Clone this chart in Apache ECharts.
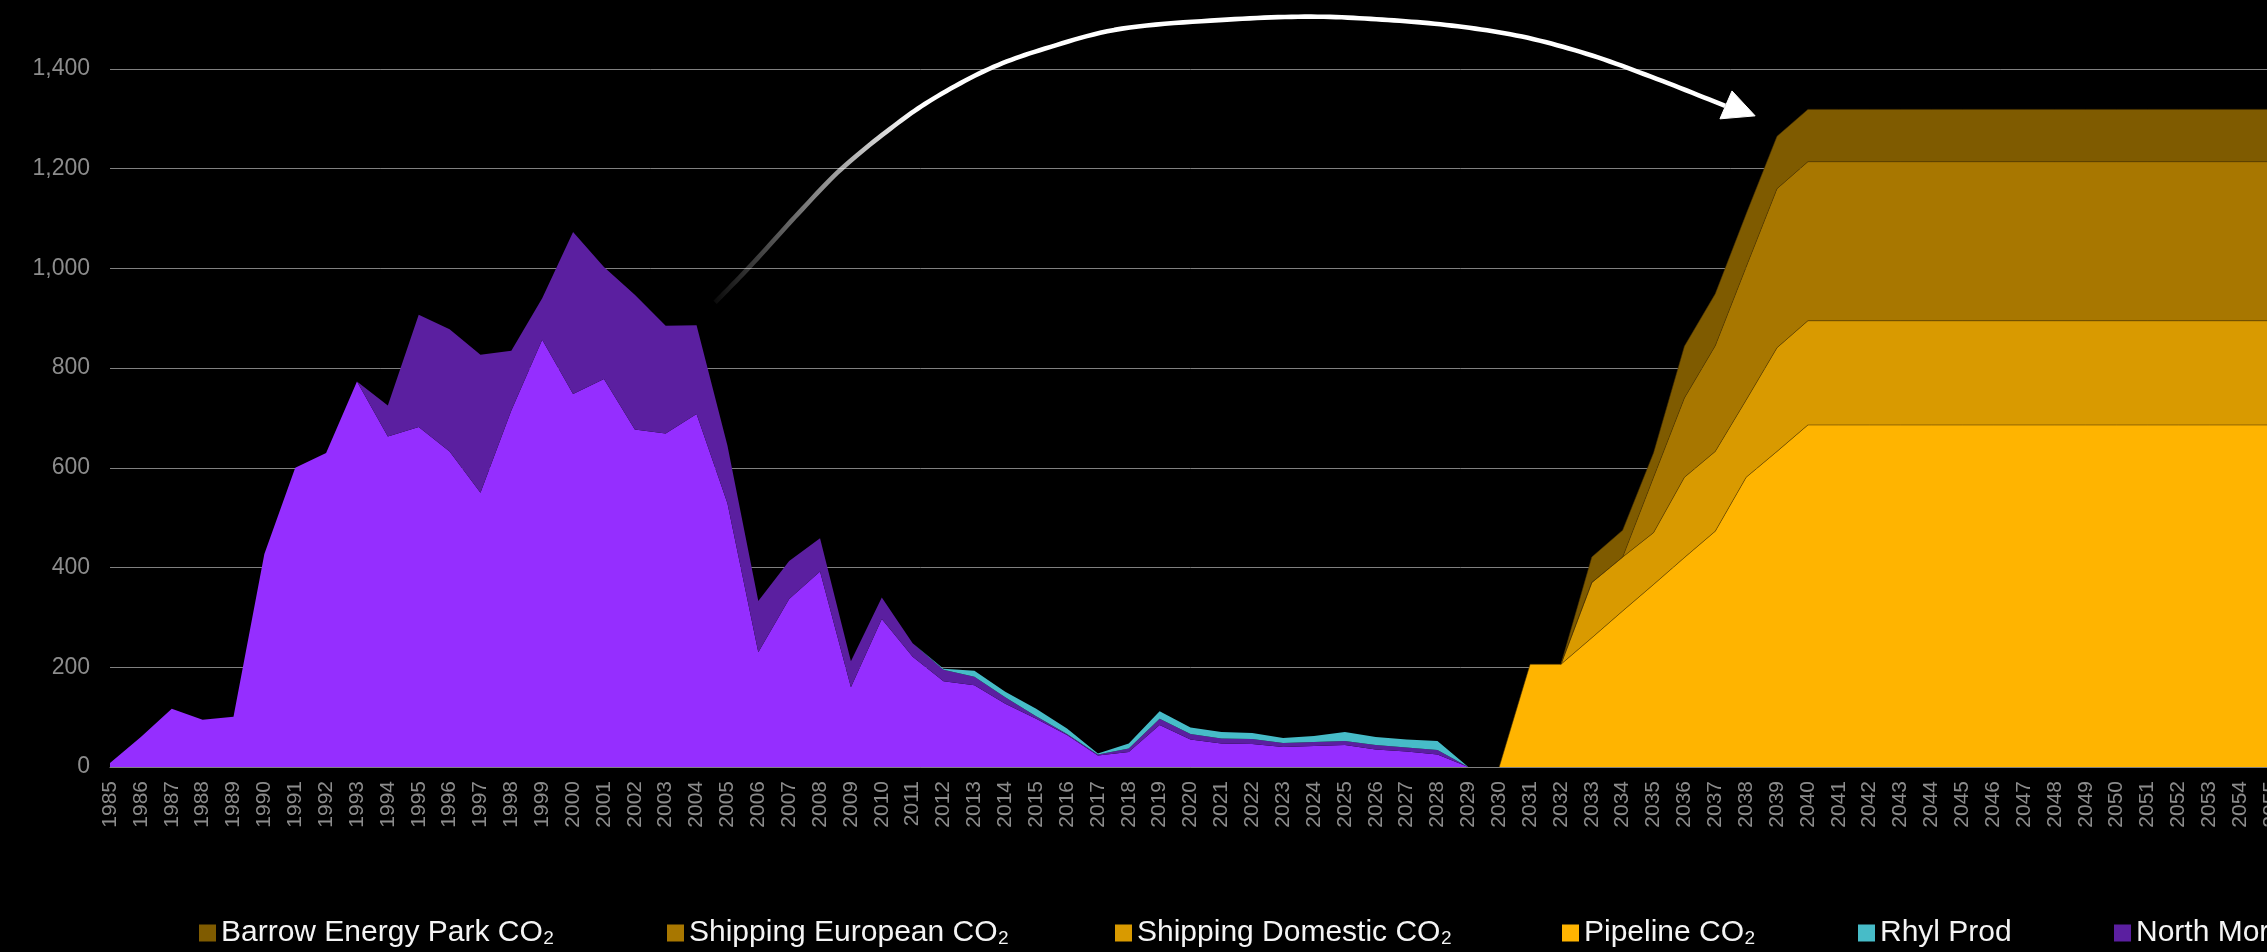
<!DOCTYPE html>
<html>
<head>
<meta charset="utf-8">
<script src="https://cdn.jsdelivr.net/npm/echarts/dist/echarts.min.js"></script>
<style>
  html, body { margin: 0; padding: 0; background: #000; overflow: hidden; width: 2267px; height: 952px; }
  #chart { width: 2400px; height: 952px; }
</style>
</head>
<body>
<div id="chart"></div>
<script>
const YEARS = ['1985','1986','1987','1988','1989','1990','1991','1992','1993','1994',
  '1995','1996','1997','1998','1999','2000','2001','2002','2003','2004',
  '2005','2006','2007','2008','2009','2010','2011','2012','2013','2014',
  '2015','2016','2017','2018','2019','2020','2021','2022','2023','2024',
  '2025','2026','2027','2028','2029','2030','2031','2032','2033','2034',
  '2035','2036','2037','2038','2039','2040','2041','2042','2043','2044',
  '2045','2046','2047','2048','2049','2050','2051','2052','2053','2054','2055'];

const Y_TICKS = [0, 200, 400, 600, 800, 1000, 1200, 1400];

// 1985-2029 values, then no data
const SOUTH_MORECAMBE = [8,60,117,95,101,427,600,630,773,663,
  682,633,550,715,857,748,778,677,669,708,
  529,230,337,392,160,297,221,172,164,127,
  97,64,23,30,84,55,47,46,40,42,
  44,35,31,25,0,
  null,null,null,null,null,null,null,null,null,null,null,null,null,
  null,null,null,null,null,null,null,null,null,null,null,null,null];

const NORTH_MORECAMBE = [null,null,null,null,null,null,null,null,
  0,62,225,245,277,120,83,325,225,270,216,178,
  116,103,76,67,52,43,27,23,17,13,
  5,2,2,7,13,11,10,10,8,8,
  8,9,8,9,0,
  null,null,null,null,null,null,null,null,null,null,null,null,null,
  null,null,null,null,null,null,null,null,null,null,null,null,null];

const RHYL = [null,null,null,null,null,null,null,null,null,null,
  null,null,null,null,null,null,null,null,null,null,
  null,null,null,null,null,null,
  0,2,12,11,15,11,2,10,15,13,13,12,10,12,18,16,16,18,0,
  null,null,null,null,null,null,null,null,null,null,null,null,null,
  null,null,null,null,null,null,null,null,null,null,null,null,null];

const PIPELINE = [null,null,null,null,null,null,null,null,null,null,
  null,null,null,null,null,null,null,null,null,null,
  null,null,null,null,null,null,null,null,null,null,
  null,null,null,null,null,null,null,null,null,null,
  null,null,null,null,null,
  0,206,206,259,313,366,420,473,581,633,
  686,686,686,686,686,686,686,686,686,686,686,686,686,686,686,686];

const SHIPPING_DOMESTIC = [null,null,null,null,null,null,null,null,null,null,
  null,null,null,null,null,null,null,null,null,null,
  null,null,null,null,null,null,null,null,null,null,
  null,null,null,null,null,null,null,null,null,null,
  null,null,null,null,null,null,null,
  0,111,108,104,161,160,155,208,
  209,209,209,209,209,209,209,209,209,209,209,209,209,209,209,209];

const SHIPPING_EUROPEAN = [null,null,null,null,null,null,null,null,null,null,
  null,null,null,null,null,null,null,null,null,null,
  null,null,null,null,null,null,null,null,null,null,
  null,null,null,null,null,null,null,null,null,null,
  null,null,null,null,null,null,null,
  0,0,0,111,159,212,267,319,
  319,319,319,319,319,319,319,319,319,319,319,319,319,319,319,319];

const BARROW = [null,null,null,null,null,null,null,null,null,null,
  null,null,null,null,null,null,null,null,null,null,
  null,null,null,null,null,null,null,null,null,null,
  null,null,null,null,null,null,null,null,null,null,
  null,null,null,null,null,null,null,
  0,51,54,49,104,104,106,105,
  105,105,105,105,105,105,105,105,105,105,105,105,105,105,105,105];

const SERIES_NAMES = ['South Morecambe Prod','North Morecambe Prod','Rhyl Prod',
  'Pipeline CO₂','Shipping Domestic CO₂','Shipping European CO₂','Barrow Energy Park CO₂'];
const SERIES_DATA = [SOUTH_MORECAMBE, NORTH_MORECAMBE, RHYL, PIPELINE,
  SHIPPING_DOMESTIC, SHIPPING_EUROPEAN, BARROW];
const COLORS = ['#952EFF','#5B1FA0','#47BCC8','#FFB400','#D99A00','#A87700','#7F5B00'];

// legend items as shown (left to right)
const LEGEND_ITEMS = ['Barrow Energy Park CO₂','Shipping European CO₂','Shipping Domestic CO₂',
  'Pipeline CO₂','Rhyl Prod','North Morecambe Prod'];
const LEGEND_LEFT = [194, 662, 1110, 1557, 1853, 2109];

// annotation arrow path in data space: [category index, value]
const ARROW_PATH = [[19.60,932],[20.73,1004],[22.32,1112],[23.68,1199],[25.27,1280],
  [26.66,1340],[28.47,1400],[30.29,1441],[32.78,1481],[36.18,1499],[38.91,1505],
  [41.21,1499],[43.47,1487],[45.74,1465],[48.01,1427],[50.28,1376],[52.32,1326]];
const ARROW_HEAD = [[53.29,1306],[52.54,1356],[52.15,1300]];

const chart = echarts.init(document.getElementById('chart'), null, {renderer: 'canvas'});

const series = SERIES_NAMES.map((name, i) => ({
  name: name,
  type: 'line',
  stack: 'total',
  data: SERIES_DATA[i],
  symbol: 'none',
  showSymbol: false,
  color: COLORS[i],
  lineStyle: i >= 3 ? {width: 1, color: 'rgba(80,55,0,0.55)'} : {width: 0},
  areaStyle: {color: COLORS[i], opacity: 1},
  emphasis: {disabled: true},
  silent: true
}));

const legends = LEGEND_ITEMS.map((name, i) => ({
  data: [name],
  left: LEGEND_LEFT[i],
  top: 913,
  icon: 'rect',
  itemWidth: 17,
  itemHeight: 17,
  selectedMode: false,
  textStyle: {color: '#f4f4f4', fontSize: 30, fontFamily: 'Liberation Sans, Arial, sans-serif'}
}));

chart.setOption({
  backgroundColor: '#000000',
  animation: false,
  legend: legends,
  grid: {left: 110, right: 129, top: 69, bottom: 185, containLabel: false},
  xAxis: {
    type: 'category',
    data: YEARS,
    boundaryGap: false,
    axisLine: {show: true, lineStyle: {color: '#808080', width: 1}},
    axisTick: {show: false},
    axisLabel: {
      interval: 0, rotate: 90, margin: 14,
      color: '#8c8c8c', fontSize: 21,
      fontFamily: 'Liberation Sans, Arial, sans-serif'
    },
    splitLine: {show: false}
  },
  yAxis: {
    type: 'value',
    min: Y_TICKS[0],
    max: Y_TICKS[Y_TICKS.length - 1],
    interval: Y_TICKS[1] - Y_TICKS[0],
    axisLine: {show: false},
    axisTick: {show: false},
    axisLabel: {
      margin: 20, color: '#8c8c8c', fontSize: 23,
      fontFamily: 'Liberation Sans, Arial, sans-serif'
    },
    splitLine: {lineStyle: {color: '#808080', width: 1}}
  },
  series: series
});

// annotation arrow, placed through the axes
const p0 = chart.convertToPixel({gridIndex: 0}, [0, 0]);
const p1 = chart.convertToPixel({gridIndex: 0}, [1, 1400]);
const stepX = p1[0] - p0[0];
const perVal = (p1[1] - p0[1]) / 1400;
const toPx = (pt) => [p0[0] + pt[0] * stepX, p0[1] + pt[1] * perVal];

// Catmull-Rom sampling through the path points
function catmull(pts, n) {
  const out = [];
  for (let i = 0; i < pts.length - 1; i++) {
    const a = pts[Math.max(i - 1, 0)], b = pts[i], c = pts[i + 1], d = pts[Math.min(i + 2, pts.length - 1)];
    for (let k = 0; k < n; k++) {
      const t = k / n, t2 = t * t, t3 = t2 * t;
      const f = (q0, q1, q2, q3) => 0.5 * ((2 * q1) + (-q0 + q2) * t + (2 * q0 - 5 * q1 + 4 * q2 - q3) * t2 + (-q0 + 3 * q1 - 3 * q2 + q3) * t3);
      out.push([f(a[0], b[0], c[0], d[0]), f(a[1], b[1], c[1], d[1])]);
    }
  }
  out.push(pts[pts.length - 1]);
  return out;
}

const curvePx = catmull(ARROW_PATH.map(toPx), 12);

chart.setOption({
  graphic: [
    {
      type: 'polyline',
      silent: true,
      z: 100,
      shape: {points: curvePx},
      style: {
        fill: null,
        lineWidth: 4.6,
        lineCap: 'butt',
        lineJoin: 'round',
        stroke: new echarts.graphic.LinearGradient(0, 0, 1, 0, [
          {offset: 0, color: 'rgba(255,255,255,0.03)'},
          {offset: 0.2, color: 'rgba(255,255,255,1)'},
          {offset: 1, color: 'rgba(255,255,255,1)'}
        ])
      }
    },
    {
      type: 'polygon',
      silent: true,
      z: 100,
      shape: {points: ARROW_HEAD.map(toPx)},
      style: {fill: '#ffffff', stroke: '#ffffff', lineWidth: 1}
    }
  ]
});
</script>
</body>
</html>
